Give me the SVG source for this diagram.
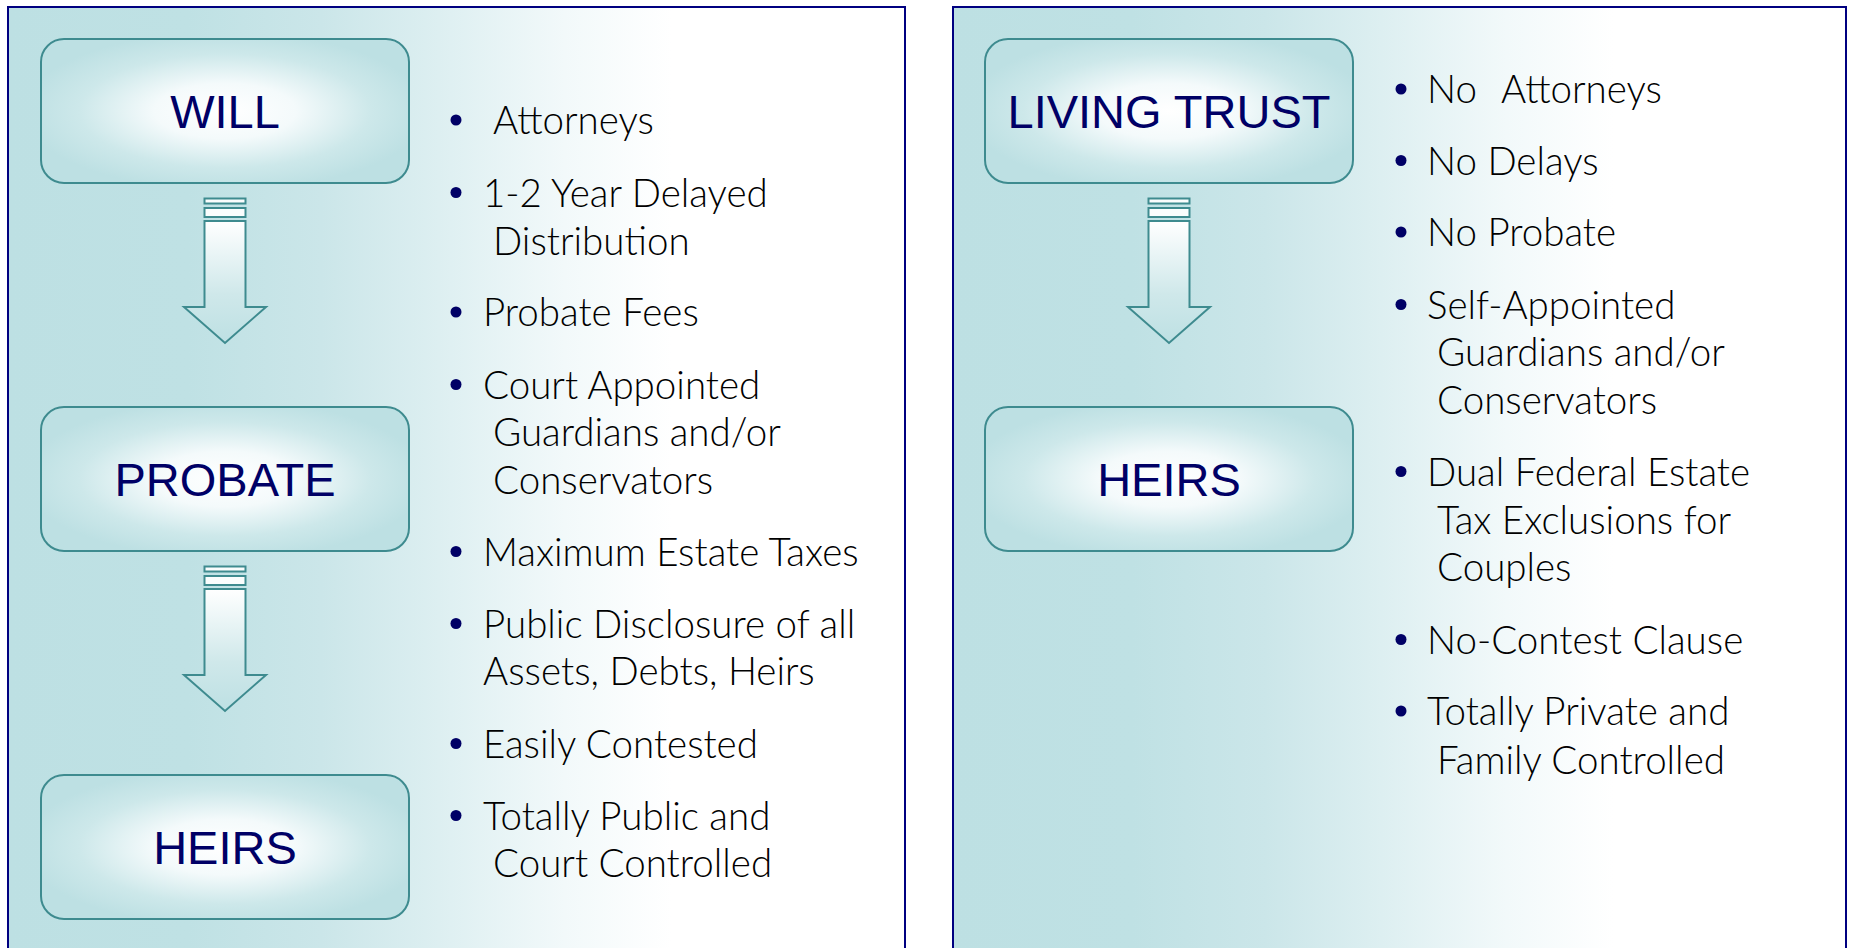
<svg xmlns="http://www.w3.org/2000/svg" width="1850" height="948" viewBox="0 0 1850 948">
<defs>
  <linearGradient id="panelBg" x1="0" y1="0" x2="1" y2="0">
    <stop offset="0" stop-color="#BDE0E3"/>
    <stop offset="0.2" stop-color="#BFE1E4"/>
    <stop offset="0.35" stop-color="#CBE6E9"/>
    <stop offset="0.48" stop-color="#DDEFF1"/>
    <stop offset="0.62" stop-color="#F2F9FA"/>
    <stop offset="0.74" stop-color="#FFFFFF"/>
    <stop offset="1" stop-color="#FFFFFF"/>
  </linearGradient>
  <radialGradient id="boxFill" cx="0.5" cy="0.5" r="0.55">
    <stop offset="0" stop-color="#FFFFFF"/>
    <stop offset="0.35" stop-color="#F4FAFB"/>
    <stop offset="0.72" stop-color="#CDE8EA"/>
    <stop offset="1" stop-color="#BDE0E3"/>
  </radialGradient>
  <linearGradient id="arrowFill" x1="0" y1="0" x2="0" y2="1">
    <stop offset="0" stop-color="#FFFFFF"/>
    <stop offset="0.6" stop-color="#CFE8EA"/>
    <stop offset="1" stop-color="#BDE0E3"/>
  </linearGradient>
  <style>
    .panel { fill: url(#panelBg); stroke: #000080; stroke-width: 2; }
    .box { fill: url(#boxFill); stroke: #3E8B8F; stroke-width: 2; }
    .arrow { fill: url(#arrowFill); stroke: #3E8B8F; stroke-width: 2; stroke-linejoin: miter; }
    .bar { fill: #FAFDFD; stroke: #3E8B8F; stroke-width: 2; }
    .label { font-family: "Liberation Sans", Arial, sans-serif; font-size: 47px; fill: #000066; text-anchor: middle; }
    .item { font-family: Lato, "Liberation Sans", sans-serif; font-size: 38.5px; font-weight: 300; fill: #000000; }
    .dot { fill: #000066; }
  </style>
</defs>

<g id="panel-will">
  <rect class="panel" x="8" y="7" width="897" height="980"/>
</g>
<g id="panel-trust">
  <rect class="panel" x="953" y="7" width="893" height="980"/>
</g>

<g id="connectors">
  <g id="arrow-will-probate">
    <rect class="bar" x="204.5" y="198.5" width="41" height="5"/>
    <rect class="bar" x="204.5" y="208" width="41" height="9"/>
    <path class="arrow" d="M204.5,221 H245.5 V307 H266 L225,343 L184,307 H204.5 Z"/>
  </g>
  <g id="arrow-probate-heirs">
    <rect class="bar" x="204.5" y="566.5" width="41" height="5"/>
    <rect class="bar" x="204.5" y="576" width="41" height="9"/>
    <path class="arrow" d="M204.5,589 H245.5 V675 H266 L225,711 L184,675 H204.5 Z"/>
  </g>
  <g id="arrow-trust-heirs">
    <rect class="bar" x="1148.5" y="198.5" width="41" height="5"/>
    <rect class="bar" x="1148.5" y="208" width="41" height="9"/>
    <path class="arrow" d="M1148.5,221 H1189.5 V307 H1210 L1169,343 L1128,307 H1148.5 Z"/>
  </g>
</g>

<g id="node-will">
  <rect class="box" x="41" y="39" width="368" height="144" rx="23"/>
  <text class="label" x="225" y="128">WILL</text>
</g>
<g id="node-probate">
  <rect class="box" x="41" y="407" width="368" height="144" rx="23"/>
  <text class="label" x="225" y="496">PROBATE</text>
</g>
<g id="node-heirs-will">
  <rect class="box" x="41" y="775" width="368" height="144" rx="23"/>
  <text class="label" x="225" y="864">HEIRS</text>
</g>
<g id="node-living-trust">
  <rect class="box" x="985" y="39" width="368" height="144" rx="23"/>
  <text class="label" x="1169" y="128">LIVING TRUST</text>
</g>
<g id="node-heirs-trust">
  <rect class="box" x="985" y="407" width="368" height="144" rx="23"/>
  <text class="label" x="1169" y="496">HEIRS</text>
</g>

<g id="list-will">
  <circle class="dot" cx="456" cy="120" r="5.5"/>
  <text class="item" x="493" y="134">Attorneys</text>
  <circle class="dot" cx="456" cy="192.5" r="5.5"/>
  <text class="item" x="483" y="206.5">1-2 Year Delayed</text>
  <text class="item" x="493" y="254.5">Distribution</text>
  <circle class="dot" cx="456" cy="312" r="5.5"/>
  <text class="item" x="483" y="326">Probate Fees</text>
  <circle class="dot" cx="456" cy="384.5" r="5.5"/>
  <text class="item" x="483" y="398.5">Court Appointed</text>
  <text class="item" x="493" y="446">Guardians and/or</text>
  <text class="item" x="493" y="493.5">Conservators</text>
  <circle class="dot" cx="456" cy="551.5" r="5.5"/>
  <text class="item" x="483" y="565.5">Maximum Estate Taxes</text>
  <circle class="dot" cx="456" cy="623.5" r="5.5"/>
  <text class="item" x="483" y="637.5">Public Disclosure of all</text>
  <text class="item" x="483" y="685">Assets, Debts, Heirs</text>
  <circle class="dot" cx="456" cy="743.5" r="5.5"/>
  <text class="item" x="483" y="757.5">Easily Contested</text>
  <circle class="dot" cx="456" cy="815.5" r="5.5"/>
  <text class="item" x="483" y="829.5">Totally Public and</text>
  <text class="item" x="493" y="876.5">Court Controlled</text>
</g>

<g id="list-trust">
  <circle class="dot" cx="1401" cy="89" r="5.5"/>
  <text class="item" x="1427" y="102.5">No<tspan x="1501">Attorneys</tspan></text>
  <circle class="dot" cx="1401" cy="160.5" r="5.5"/>
  <text class="item" x="1427" y="174.5">No Delays</text>
  <circle class="dot" cx="1401" cy="232" r="5.5"/>
  <text class="item" x="1427" y="246">No Probate</text>
  <circle class="dot" cx="1401" cy="304.5" r="5.5"/>
  <text class="item" x="1427" y="318.5">Self-Appointed</text>
  <text class="item" x="1437" y="366">Guardians and/or</text>
  <text class="item" x="1437" y="413.5">Conservators</text>
  <circle class="dot" cx="1401" cy="471.5" r="5.5"/>
  <text class="item" x="1427" y="485.5">Dual Federal Estate</text>
  <text class="item" x="1437" y="533.5">Tax Exclusions for</text>
  <text class="item" x="1437" y="581">Couples</text>
  <circle class="dot" cx="1401" cy="639.5" r="5.5"/>
  <text class="item" x="1427" y="653.5">No-Contest Clause</text>
  <circle class="dot" cx="1401" cy="711" r="5.5"/>
  <text class="item" x="1427" y="725">Totally Private and</text>
  <text class="item" x="1437" y="773.5">Family Controlled</text>
</g>
</svg>
